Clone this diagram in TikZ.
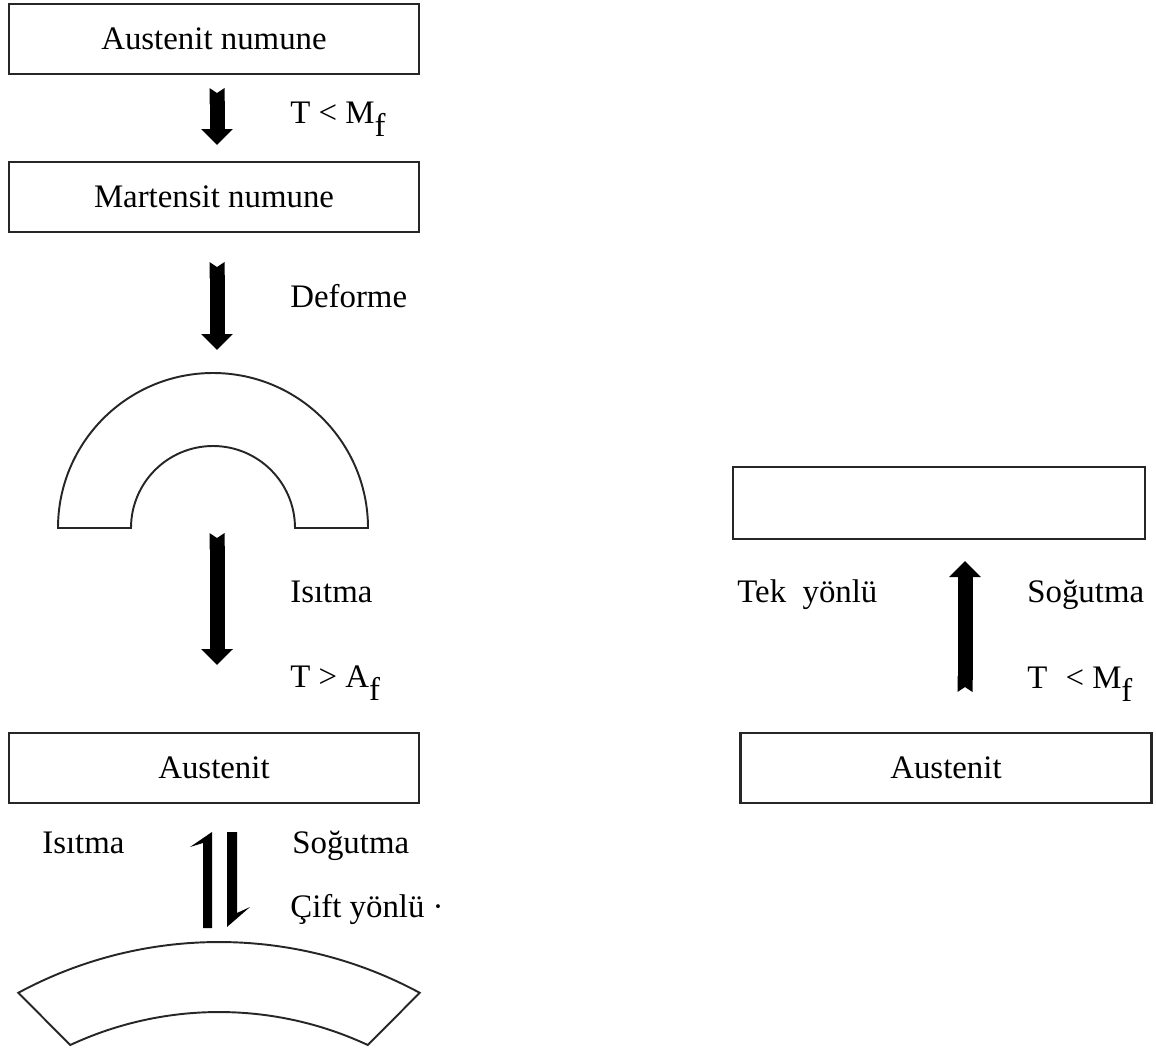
\documentclass[tikz,border=0pt]{standalone}
\usepackage{fontspec}
\setmainfont{Liberation Serif}
\usetikzlibrary{arrows.meta}

\newcommand{\altindis}[1]{\raisebox{-0.42em}{#1}}

\begin{document}
\begin{tikzpicture}[
    x=0.02cm, y=-0.02cm,
    every node/.style={font=\fontsize{18.7}{22}\selectfont},
    kutu/.style={draw=black!85, line width=1.2pt, minimum width=8.2cm, minimum height=1.4cm, inner sep=0pt},
    yazi/.style={anchor=base west, inner sep=0pt},
    blok/.style={line width=0.3cm, {Triangle Cap[reversed,length=0.1cm]}-{Triangle[length=0.32cm,width=0.62cm]}},
    cizgi/.style={draw=black!85, line width=1.1pt}
]
\useasboundingbox (0,0) rectangle (1156,1052);

\node[kutu] (aus) at (214,39) {Austenit numune};
\node[kutu] (mart) at (214,197) {Martensit numune};
\node[kutu] (aus2) at (214,768) {Austenit};
\node[kutu, minimum width=8.24cm, minimum height=1.44cm] (bos) at (939,503) {};
\node[kutu, minimum width=8.22cm] (aus3) at (946,768) {};
\node at (aus3) {Austenit};

% bent sample
\coordinate (yaytepe) at (213,373);
\coordinate (yaytaban) at (213,528);
\draw[cizgi] (58,528) arc[start angle=180, end angle=360, radius=155]
    -- (295,528) arc[start angle=0, end angle=-180, radius=82] -- cycle;

% two-way sample
\draw[cizgi] (18.3,992.8) arc[start angle=241.6, end angle=298.4, radius=422]
    -- (367.8,1045) arc[start angle=295, end angle=245, radius=352] -- cycle;

\coordinate (o1a) at (217,88);   \coordinate (o1b) at (217,145);
\coordinate (o2a) at (217,262);  \coordinate (o2b) at (217,350);
\coordinate (o3a) at (217,533);  \coordinate (o3b) at (217,665);
\coordinate (o4a) at (965,692);  \coordinate (o4b) at (965,561);
\draw[blok] (o1a) -- (o1b);
\draw[blok] (o2a) -- (o2b);
\draw[blok] (o3a) -- (o3b);
\draw[blok] (o4a) -- (o4b);

\coordinate (isu) at (212,832);
\coordinate (sog) at (227,927);
\fill (isu) -- ++(-22,15) -- ++(13,-4) -- (203,928) -- (212,928) -- cycle;
\fill (sog) -- (227,832) -- (237,832) -- (237,913) -- (250,907) -- cycle;

\node[yazi] (tm1) at (290,123) {T < M\altindis{f}};
\node[yazi] (def) at (290,307) {Deforme};
\node[yazi] (ist1) at (290,602) {Isıtma};
\node[yazi] (ta) at (290,687) {T > A\altindis{f}};
\node[yazi] (ist2) at (42,853) {Isıtma};
\node[yazi] (sog1) at (292,853) {Soğutma};
\node[yazi] (cift) at (290,917) {Çift yönlü ·};
\node[yazi] (tek) at (737,602) {Tek\ \ yönlü};
\node[yazi] (sog2) at (1027,602) {Soğutma};
\node[yazi] (tm2) at (1027,688) {T\hspace{0.3em} < M\altindis{f}};
\end{tikzpicture}
\end{document}
